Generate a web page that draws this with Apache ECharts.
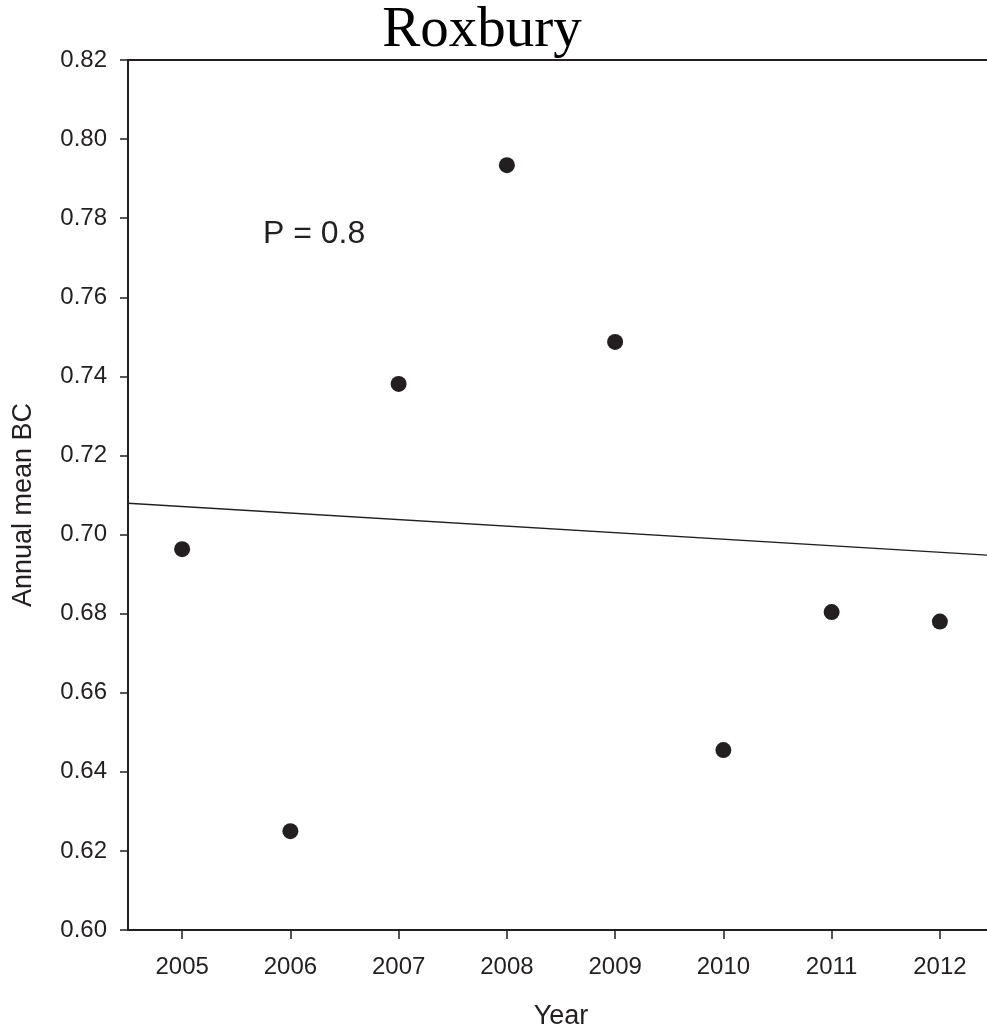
<!DOCTYPE html>
<html>
<head>
<meta charset="utf-8">
<title>Roxbury</title>
<script src="https://cdn.jsdelivr.net/npm/echarts@6/dist/echarts.min.js"></script>
<style>
  html, body { margin: 0; padding: 0; background: #fff; }
  #chart { width: 987px; height: 1031px; }
</style>
</head>
<body>
<div id="chart"></div>
<script>
// values
const years = [2005, 2006, 2007, 2008, 2009, 2010, 2011, 2012]
const annualMeanBC = [0.6963, 0.6250, 0.7381, 0.7934, 0.7487, 0.6455, 0.6804, 0.6780]
// regression line, end points at the axis limits
const trendX = [2004.5, 2012.5]
const trendY = [0.7079, 0.6947]
const pText = 'P = 0.8'

const ink = '#231f20'
const sans = 'Liberation Sans, Arial, sans-serif'

const chart = echarts.init(document.getElementById('chart'))

const option = {
  animation: false,
  backgroundColor: '#fff',
  title: {
    text: 'Roxbury',
    left: 477,
    top: -2,
    textAlign: 'center',
    textStyle: { fontFamily: 'Liberation Serif, Times New Roman, serif', fontSize: 57, fontWeight: 'normal', color: '#000' }
  },
  // plot runs a little past the right edge of the picture
  grid: { left: 128, width: 866, top: 60, bottom: 101, outerBoundsMode: 'none', containLabel: false },
  xAxis: [
    {
      type: 'value',
      min: trendX[0],
      max: trendX[1],
      name: 'Year',
      nameLocation: 'middle',
      nameGap: 73,
      nameTextStyle: { fontFamily: sans, fontSize: 27, color: ink },
      axisLine: { lineStyle: { color: ink, width: 2 } },
      axisTick: { show: true, length: 9, lineStyle: { color: ink, width: 1.5 }, customValues: years },
      axisLabel: { margin: 25, fontFamily: sans, fontSize: 24, color: ink, customValues: years, formatter: v => String(v) },
      splitLine: { show: false }
    },
    {
      type: 'value',
      position: 'top',
      min: trendX[0],
      max: trendX[1],
      axisLine: { show: true, lineStyle: { color: ink, width: 2 } },
      axisTick: { show: false },
      axisLabel: { show: false },
      splitLine: { show: false }
    }
  ],
  yAxis: {
    type: 'value',
    min: 0.60,
    max: 0.82,
    interval: 0.02,
    axisLine: { show: true, lineStyle: { color: ink, width: 2 } },
    axisTick: { show: true, length: 8, lineStyle: { color: ink, width: 1.5 } },
    axisLabel: { margin: 21, fontFamily: sans, fontSize: 24, color: ink, formatter: v => v.toFixed(2) },
    splitLine: { show: false }
  },
  graphic: [
    {
      type: 'text',
      left: 263,
      top: 218,
      style: { text: pText, fontFamily: sans, fontSize: 32, fill: ink }
    },
    {
      type: 'text',
      x: 24,
      y: 505,
      rotation: Math.PI / 2,
      style: { text: 'Annual mean BC', fontFamily: sans, fontSize: 27, fill: ink, align: 'center', verticalAlign: 'middle' }
    }
  ],
  series: [
    {
      name: 'trend',
      type: 'line',
      data: trendX.map((x, i) => [x, trendY[i]]),
      showSymbol: false,
      lineStyle: { color: ink, width: 1.4 },
      silent: true
    },
    {
      name: 'Annual mean BC',
      type: 'scatter',
      data: years.map((y, i) => [y, annualMeanBC[i]]),
      symbolSize: 16,
      itemStyle: { color: ink, opacity: 1 }
    }
  ]
}

chart.setOption(option)
</script>
</body>
</html>
